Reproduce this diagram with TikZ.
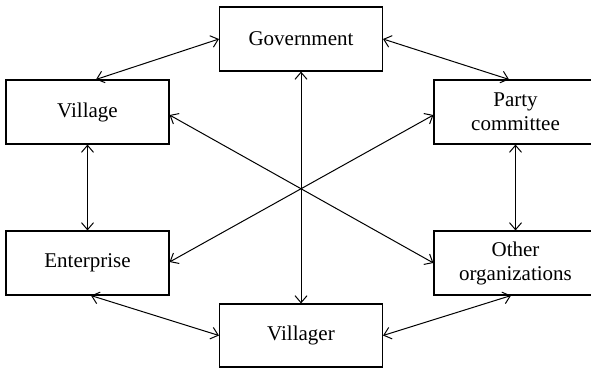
\documentclass[tikz,border=0pt]{standalone}
\usepackage{fontspec}
\setmainfont{Liberation Serif}
\usetikzlibrary{arrows.meta}
\begin{document}
\begin{tikzpicture}[x=1pt,y=1pt,
  box/.style={draw,line width=1.1pt,minimum width=163pt,minimum height=64pt,inner sep=0pt,align=center,font=\fontsize{21}{24}\selectfont},
  link/.style={line width=1pt,{Straight Barb[length=7pt,width=12pt]}-{Straight Barb[length=7pt,width=12pt]}}]
\useasboundingbox (0,0) rectangle (591,368);
\clip (0,0) rectangle (591,368);
\node[box] (gov) at (301,329) {Government};
\node[box] (village) at (87.5,256) {Village};
\node[box] (party) at (515.5,256) {Party\\committee};
\node[box] (ent) at (87.5,105) {Enterprise};
\node[box] (other) at (515.5,105) {Other\\organizations};
\node[box,minimum height=63pt] (villager) at (301,32.5) {Villager};
\draw[link] ([xshift=8.5pt]village.north) -- (gov.west);
\draw[link] (gov.east) -- ([xshift=-6.5pt]party.north);
\draw[link] (village.south) -- (ent.north);
\draw[link] (party.south) -- (other.north);
\draw[link] (gov.south) -- (villager.north);
\draw[link] ([xshift=3.5pt]ent.south) -- (villager.west);
\draw[link] (villager.east) -- ([xshift=-4.5pt]other.south);
\draw[link] ([yshift=-3pt]village.east) -- (other.west);
\draw[link] ([yshift=1pt]ent.east) -- ([yshift=-3pt]party.west);
\end{tikzpicture}
\end{document}
